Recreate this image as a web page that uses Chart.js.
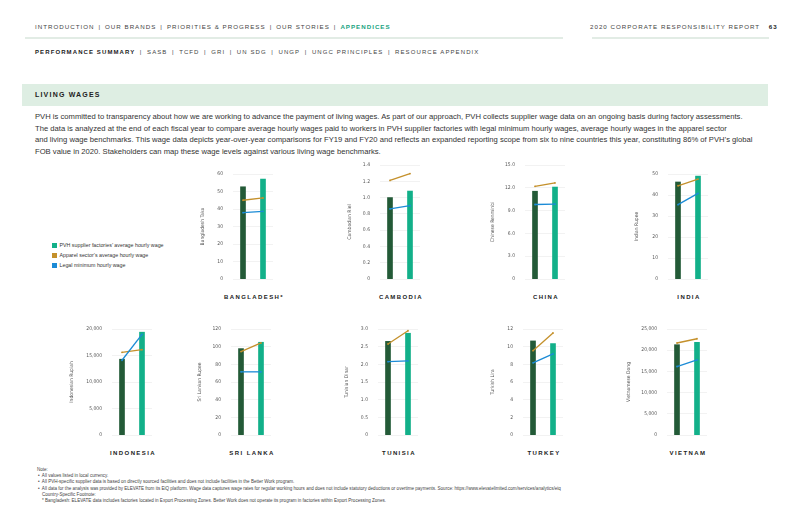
<!DOCTYPE html>
<html>
<head>
<meta charset="utf-8">
<script src="https://cdn.jsdelivr.net/npm/chart.js@4.4.1/dist/chart.umd.min.js"></script>
<style>
  html, body { margin: 0; padding: 0; background: #fff; }
  #page { position: relative; width: 800px; height: 517px; overflow: hidden; font-family: "Liberation Sans", Arial, sans-serif; color: #333; }
  .abs { position: absolute; white-space: nowrap; }
  .nav { font-size: 6.2px; letter-spacing: 1px; color: #444; }
  .nav .sep { margin: 0 4px; }
  .nav b { color: #19a37f; }
  .sub { font-size: 6px; letter-spacing: 1.1px; color: #444; }
  .sub .sep { margin: 0 4.5px; }
  .sub b { color: #222; }
  .rule { position: absolute; height: 2px; background: #e2ece5; }
  .band { position: absolute; left: 22px; top: 84px; width: 746px; height: 22px; background: #deeee3; }
  .head { font-size: 7px; font-weight: bold; letter-spacing: 1.2px; color: #222; }
  .para { font-size: 7.65px; line-height: 11.6px; color: #333; }
  .legend { font-size: 5.3px; color: #333; }
  .legend i { display: inline-block; width: 4.5px; height: 4.5px; margin-right: 3px; vertical-align: -0.5px; }
  .country { font-size: 6px; font-weight: bold; letter-spacing: 1.4px; color: #222; transform: translateX(-50%); }
  .notes { font-size: 4.55px; line-height: 6.2px; color: #444; }
  canvas { position: absolute; }
</style>
</head>
<body>
<div id="page">
  <div class="abs nav" style="left:35px; top:23px;">INTRODUCTION<span class="sep">|</span>OUR BRANDS<span class="sep">|</span>PRIORITIES &amp; PROGRESS<span class="sep">|</span>OUR STORIES<span class="sep">|</span><b>APPENDICES</b></div>
  <div class="abs nav" style="left:590px; top:23px;">2020 CORPORATE RESPONSIBILITY REPORT <b style="color:#222; margin-left:6px;">63</b></div>
  <div class="rule" style="left:25px; top:37px; width:538px;"></div>
  <div class="rule" style="left:592px; top:37px; width:177px;"></div>
  <div class="abs sub" style="left:35px; top:49px;"><b>PERFORMANCE SUMMARY</b><span class="sep">|</span>SASB<span class="sep">|</span>TCFD<span class="sep">|</span>GRI<span class="sep">|</span>UN SDG<span class="sep">|</span>UNGP<span class="sep">|</span>UNGC PRINCIPLES<span class="sep">|</span>RESOURCE APPENDIX</div>
  <div class="band"></div>
  <div class="abs head" style="left:35px; top:91px;">LIVING WAGES</div>
  <div class="abs para" style="left:35px; top:111px;">PVH is committed to transparency about how we are working to advance the payment of living wages. As part of our approach, PVH collects supplier wage data on an ongoing basis during factory assessments.<br>The data is analyzed at the end of each fiscal year to compare average hourly wages paid to workers in PVH supplier factories with legal minimum hourly wages, average hourly wages in the apparel sector<br>and living wage benchmarks. This wage data depicts year-over-year comparisons for FY19 and FY20 and reflects an expanded reporting scope from six to nine countries this year, constituting 86% of PVH’s global<br>FOB value in 2020. Stakeholders can map these wage levels against various living wage benchmarks.</div>

  <div class="abs legend" style="left:52px; top:242px;"><i style="background:#12b089"></i>PVH supplier factories’ average hourly wage</div>
  <div class="abs legend" style="left:52px; top:252px;"><i style="background:#c4902b"></i>Apparel sector’s average hourly wage</div>
  <div class="abs legend" style="left:52px; top:262px;"><i style="background:#1b8bd6"></i>Legal minimum hourly wage</div>

  <div class="abs notes" style="left:37px; top:467px;">Note:<br>
  <span style="margin-left:1px">•&nbsp; All values listed in local currency.</span><br>
  <span style="margin-left:1px">•&nbsp; All PVH-specific supplier data is based on directly sourced facilities and does not include facilities in the Better Work program.</span><br>
  <span style="margin-left:1px">•&nbsp; All data for the analysis was provided by ELEVATE from its EiQ platform. Wage data captures wage rates for regular working hours and does not include statutory deductions or overtime payments. Source: https://www.elevatelimited.com/services/analytics/eiq</span><br>
  <span style="margin-left:5px">Country-Specific Footnote:</span><br>
  <span style="margin-left:5px">* Bangladesh: ELEVATE data includes factories located in Export Processing Zones. Better Work does not operate its program in factories within Export Processing Zones.</span></div>
</div>

<script>
// data
const years = ['2019', '2020'];
const countries = ['BANGLADESH*', 'CAMBODIA', 'CHINA', 'INDIA', 'INDONESIA', 'SRI LANKA', 'TUNISIA', 'TURKEY', 'VIETNAM'];
const currencies = ['Bangladesh Taka', 'Cambodian Riel', 'Chinese Renminbi', 'Indian Rupee', 'Indonesian Rupiah', 'Sri Lankan Rupee', 'Tunisian Dinar', 'Turkish Lira', 'Vietnamese Dong'];
const pvhWage = [[52.7, 57.1], [1.0, 1.08], [11.55, 12.1], [46.2, 49.0], [14300, 19400], [97.8, 105], [2.65, 2.88], [10.65, 10.35], [21300, 21850]];
const apparelWage = [[45.0, 46.3], [1.21, 1.295], [12.2, 12.64], [44.4, 47.6], [15600, 16100], [94.4, 104.2], [2.575, 2.95], [9.55, 11.55], [21700, 22700]];
const legalWage = [[37.9, 38.7], [0.86, 0.9], [9.8, 9.84], [35.4, 40.8], [14100, 19000], [71.5, 71.5], [2.075, 2.1], [8.17, 9.18], [16150, 17700]];
const axisMax = [60, 1.4, 15, 50, 20000, 120, 3, 12, 25000];
const axisStep = [10, 0.2, 3, 10, 5000, 20, 0.5, 2, 5000];
const axisDecimals = [0, 1, 1, 0, 0, 0, 1, 0, 0];

// where each plot sits on the page (left of plot, y of top tick, y of zero, x of axis title)
const boxes = [
  { L: 233, T: 174, B: 279, tx: 203 },
  { L: 380, T: 165, B: 279, tx: 350 },
  { L: 525, T: 165, B: 279, tx: 493 },
  { L: 668, T: 174, B: 279, tx: 637 },
  { L: 112, T: 329, B: 435, tx: 72 },
  { L: 231, T: 329, B: 435, tx: 200 },
  { L: 378, T: 329, B: 435, tx: 347 },
  { L: 523, T: 329, B: 435, tx: 493 },
  { L: 667, T: 329, B: 435, tx: 629 }
];
const titleRows = [298, 298, 298, 298, 454, 454, 454, 454, 454];

const DARK = '#235a37', TEAL = '#12b089', GOLD = '#c4902b', BLUE = '#1b8bd6';
const FONT = "'Liberation Sans Narrow', 'DejaVu Sans Condensed', 'Liberation Sans', Arial, sans-serif";
const page = document.getElementById('page');

function makeChart(i, left, top, w, h, yW) {
  const canvas = document.createElement('canvas');
  canvas.width = w;
  canvas.height = h;
  canvas.style.left = left + 'px';
  canvas.style.top = top + 'px';
  page.appendChild(canvas);
  const dec = axisDecimals[i];
  return new Chart(canvas, {
    type: 'bar',
    data: {
      labels: years,
      datasets: [
        { type: 'line', label: 'Legal minimum hourly wage', data: legalWage[i], borderColor: BLUE, backgroundColor: BLUE, borderWidth: 1.3, pointRadius: 0.9, pointBorderWidth: 0, order: 0 },
        { type: 'line', label: "Apparel sector's average hourly wage", data: apparelWage[i], borderColor: GOLD, backgroundColor: GOLD, borderWidth: 1.3, pointRadius: 0.9, pointBorderWidth: 0, order: 0 },
        { type: 'bar', label: "PVH supplier factories' average hourly wage", data: pvhWage[i], backgroundColor: [DARK, TEAL], barThickness: 5, order: 1 }
      ]
    },
    options: {
      responsive: false,
      maintainAspectRatio: false,
      animation: false,
      devicePixelRatio: 1,
      layout: { padding: { top: 5, right: 6, left: 0, bottom: 0 } },
      plugins: { legend: { display: false }, tooltip: { enabled: false } },
      scales: {
        x: {
          grid: { display: false },
          border: { display: false },
          ticks: { font: { family: FONT, size: 5 }, color: '#555', padding: 2, maxRotation: 0 },
          afterFit: s => { s.height = 10; }
        },
        y: {
          min: 0,
          max: axisMax[i],
          border: { display: false },
          grid: { color: '#ececec', lineWidth: 0.7, drawTicks: false },
          ticks: {
            stepSize: axisStep[i],
            padding: 10,
            font: { family: FONT, size: 5 },
            color: '#555',
            callback: v => v === 0 ? '0' : (dec ? v.toFixed(dec) : v.toLocaleString('en-US'))
          },
          title: { display: true, text: currencies[i], font: { family: FONT, size: 5 }, color: '#555', padding: 0 },
          afterFit: s => { s.width = yW; }
        }
      }
    }
  });
}

countries.forEach((name, i) => {
  const b = boxes[i];
  const left = Math.round(b.tx - 3);
  const yW = b.L - left;
  const w = yW + 46;
  // first pass: measure where the plot lands, then rebuild so the axis matches the page
  let chart = makeChart(i, left, b.T - 5, w, (b.B - b.T) + 15, yW);
  const y0 = chart.scales.y.getPixelForValue(0);
  const yTop = chart.scales.y.getPixelForValue(axisMax[i]);
  const below = chart.height - y0;
  const dx = chart.chartArea.left - yW;
  chart.canvas.remove();
  chart.destroy();
  const h = Math.round((b.B - b.T) + yTop + below);
  makeChart(i, left - dx, Math.round(b.T - yTop), w, h, yW);

  const t = document.createElement('div');
  t.className = 'abs country';
  t.textContent = name;
  t.style.left = (b.L + 21) + 'px';
  t.style.top = (titleRows[i] - 4) + 'px';
  page.appendChild(t);
});
</script>
</body>
</html>
